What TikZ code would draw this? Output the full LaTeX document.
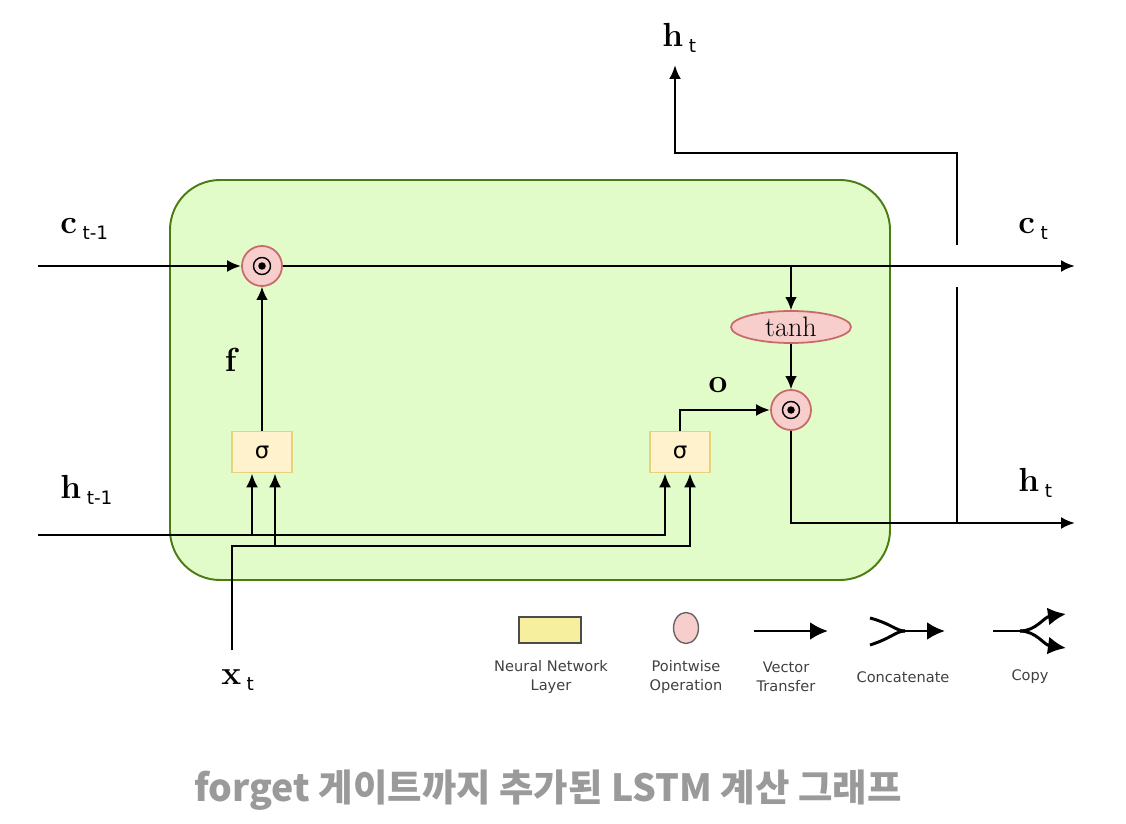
\documentclass[tikz,border=0pt]{standalone}
\usepackage{fontspec}
\setsansfont{DejaVu Sans}
\newfontfamily\hangul{Noto Sans CJK KR}
\usepackage{xcolor}
\usepackage{tikz}
\usetikzlibrary{arrows.meta,positioning,shapes.geometric}
\definecolor{cellgreen}{RGB}{74, 124, 18}
\definecolor{cellfill}{RGB}{225, 252, 200}
\definecolor{layeredge}{RGB}{230, 210, 122}
\definecolor{layerfill}{RGB}{255, 242, 204}
\definecolor{opedge}{RGB}{201, 106, 106}
\definecolor{opfill}{RGB}{248, 206, 204}
\definecolor{legendfill}{RGB}{245, 239, 158}
\definecolor{captiongray}{RGB}{154, 154, 154}
\newcommand{\vlab}[2]{\textbf{#1}\,\raisebox{-0.45ex}{\sffamily\fontsize{10.5}{12}\selectfont #2}}
\tikzset{
  cellbox/.style={
    draw=cellgreen,
    fill=cellfill,
    rounded corners=1cm,
    line width=1.1pt
  },
  layerbox/.style={
    draw=layeredge,
    fill=layerfill,
    minimum width=1.2cm,
    minimum height=0.82cm,
    line width=1pt,
    font=\sffamily\fontsize{13}{14}\selectfont
  },
  pointop/.style={
    circle,
    draw=opedge,
    fill=opfill,
    minimum size=0.8cm,
    line width=1pt,
    path picture={
      \draw[black, line width=0.8pt] (path picture bounding box.center) circle (0.17cm);
      \fill[black] (path picture bounding box.center) circle (0.075cm);
    }
  },
  tanhop/.style={
    ellipse,
    draw=opedge,
    fill=opfill,
    minimum width=2.4cm,
    minimum height=0.64cm,
    inner sep=0pt,
    line width=1pt,
    font=\fontsize{16}{17}\selectfont
  },
  flow/.style={
    -{Latex[length=2.8mm,width=2.4mm]},
    line width=1.5pt
  },
  thinflow/.style={
    -{Latex[length=2.6mm,width=2.3mm]},
    line width=0.9pt
  },
  wire/.style={
    line width=1.5pt
  },
  varlabel/.style={
    font=\fontsize{19}{20}\selectfont,
    inner sep=0pt
  },
  legendtext/.style={
    align=center,
    font=\sffamily\fontsize{8.3}{11}\selectfont,
    text=black!75
  }
}

\begin{document}
\begin{tikzpicture}[x=0.02cm, y=-0.02cm]
  \useasboundingbox (0,0) rectangle (1126,824);
  % the cell
  \draw[cellbox] (170,180) rectangle (890,580);

  % gates and pointwise operations
  \node[pointop] (fmul) at (262,266) {};
  \node[layerbox] (fgate) at (262,452) {σ};
  \node[layerbox] (ogate) at (680,452) {σ};
  \node[pointop] (omul) at (791,410) {};
  \node[tanhop] (tanh) at (791,327) {tanh};

  % free ends of the connectors
  \coordinate (cin) at (38,266);
  \coordinate (cout) at (1075,266);
  \coordinate (ctap) at (791,266);
  \coordinate (hin) at (38,535);
  \coordinate (hbranch) at (252,535);
  \coordinate (xin) at (232,650);
  \coordinate (xbend) at (232,546);
  \coordinate (xbranch) at (275,546);
  \coordinate (hout) at (1075,523);
  \coordinate (hsplit) at (957,523);
  \coordinate (hgapbot) at (957,287);
  \coordinate (hgaptop) at (957,245);
  \coordinate (hbend) at (957,153);
  \coordinate (htop) at (675,65);

  % cell state
  \draw[flow] (cin) -- (fmul);
  \draw[flow] (fmul) -- (cout);
  \draw[thinflow] (fgate) -- (fmul);
  \draw[thinflow] (ctap) -- (tanh);
  \draw[thinflow] (tanh) -- (omul);

  % inputs
  \draw[flow] (hin) -| ([xshift=-0.3cm]ogate.south);
  \draw[flow] (hbranch) -- (hbranch |- fgate.south);
  \draw[flow] (xin) -- (xbend) -| ([xshift=0.2cm]ogate.south);
  \draw[flow] (xbranch) -- (xbranch |- fgate.south);

  % output gate and hidden state
  \draw[flow] (ogate.north) |- (omul);
  \draw[flow] (omul) |- (hout);
  \draw[wire] (hsplit) -- (hgapbot);
  \draw[flow] (hgaptop) -- (hbend) -| (htop);

  % labels
  \node[varlabel, anchor=west] (lcprev) at (60,229) {\vlab{c}{t-1}};
  \node[varlabel, anchor=west] (lhprev) at (60,490) {\vlab{h}{t-1}};
  \node[varlabel, anchor=west] (lx) at (221,680) {\vlab{x}{t}};
  \node[varlabel, anchor=west] (lct) at (1018,229) {\vlab{c}{t}};
  \node[varlabel, anchor=west] (lht) at (1018,483) {\vlab{h}{t}};
  \node[varlabel, anchor=west] (lhtop) at (662,38) {\vlab{h}{t}};
  \node[varlabel] (lf) at (232,360) {\textbf{f}};
  \node[varlabel] (lo) at (718,385) {\textbf{o}};

  % legend
  \node[draw=black!70, fill=legendfill, line width=1pt, minimum width=1.24cm, minimum height=0.52cm] (keylayer) at (550,630) {};
  \node[ellipse, draw=black!60, fill=opfill, line width=0.8pt, minimum width=0.5cm, minimum height=0.62cm, inner sep=0pt] (keyop) at (686,628) {};
  \coordinate (keyvecin) at (754,631);
  \coordinate (keyvecout) at (828,631);
  \draw[-{Latex[length=3.6mm,width=3.6mm]}, line width=1.7pt] (keyvecin) -- (keyvecout);
  \coordinate (keycatup) at (870,618);
  \coordinate (keycatlow) at (870,645);
  \coordinate (keycatjoin) at (905,631);
  \coordinate (keycatout) at (945,631);
  \draw[line width=1.7pt] (keycatup) .. controls (892,624) and (896,631) .. (keycatjoin);
  \draw[line width=1.7pt] (keycatlow) .. controls (892,638) and (896,631) .. (keycatjoin);
  \draw[-{Latex[length=3.6mm,width=3.6mm]}, line width=1.7pt] (keycatjoin) -- (keycatout);
  \coordinate (keycopyin) at (993,631);
  \coordinate (keycopysplit) at (1020,631);
  \coordinate (keycopyup) at (1066,614);
  \coordinate (keycopylow) at (1066,648);
  \draw[line width=1.7pt] (keycopyin) -- (keycopysplit);
  \draw[-{Latex[length=3.6mm,width=3.6mm]}, line width=1.7pt] (keycopysplit) .. controls (1036,631) and (1044,617) .. (keycopyup);
  \draw[-{Latex[length=3.6mm,width=3.6mm]}, line width=1.7pt] (keycopysplit) .. controls (1036,631) and (1044,645) .. (keycopylow);
  \node[legendtext] (tlayer) at (551,677) {Neural Network\\Layer};
  \node[legendtext] (top) at (686,677) {Pointwise\\Operation};
  \node[legendtext] (tvec) at (786,677) {Vector\\Transfer};
  \node[legendtext] (tcat) at (903,677) {Concatenate};
  \node[legendtext] (tcopy) at (1030,677) {Copy};

  % caption
  \node[text=captiongray, font=\hangul\bfseries\fontsize{21.3}{24}\selectfont] (caption) at (548,790) {forget 게이트까지 추가된 LSTM 계산 그래프};
\end{tikzpicture}
\end{document}
